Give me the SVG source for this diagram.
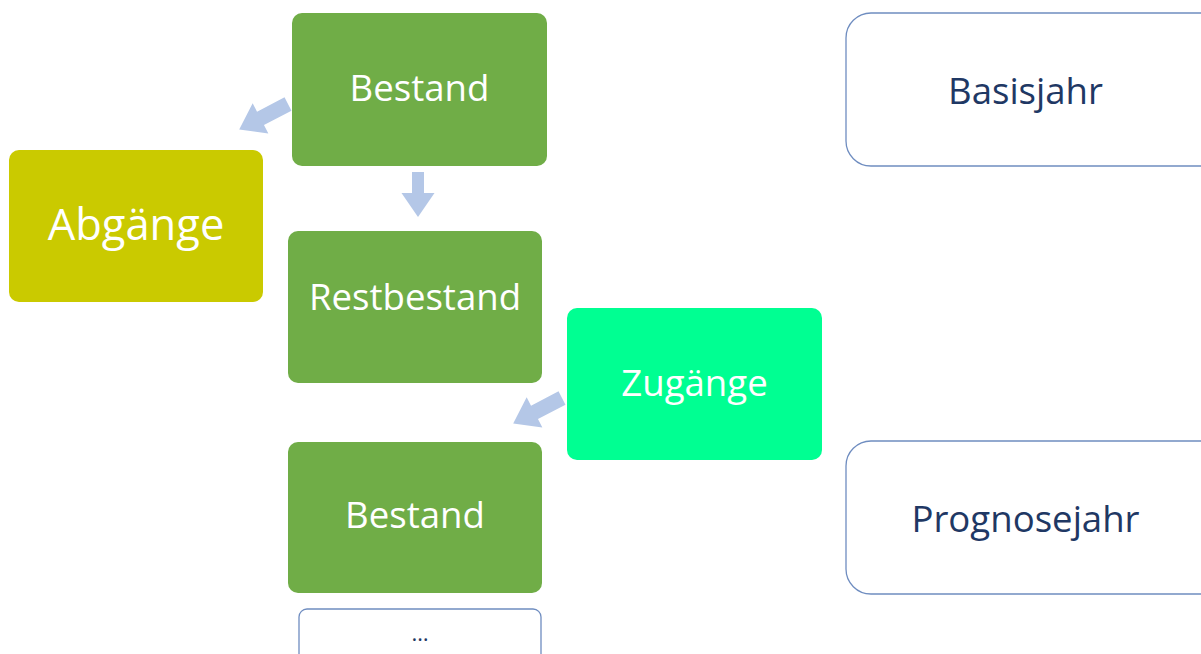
<svg xmlns="http://www.w3.org/2000/svg" width="1201" height="654" viewBox="0 0 1201 654">
<style>
.g{fill:#70AD47}
.w{fill:#FFFFFF;stroke:#6F8DC0;stroke-width:1.3}
.t{font-family:"Open Sans","Noto Sans",sans-serif;font-size:36.6px;text-anchor:middle}
.tw{fill:#FFFFFF}
.tn{fill:#1F3864}
.ar{fill:#B4C7E7}
</style>
<g id="connectors">
<path class="ar" transform="translate(288,104) rotate(152.5)" d="M0,-7.5 H31 V-17 L55,0 L31,17 V7.5 H0 Z"/>
<path class="ar" transform="translate(418,172) rotate(90)" d="M0,-6 H21 V-16.5 L45,0 L21,16.5 V6 H0 Z"/>
<path class="ar" transform="translate(562,398) rotate(152.5)" d="M0,-7.5 H31 V-17 L55,0 L31,17 V7.5 H0 Z"/>
</g>
<g id="bestand1"><rect class="g" x="292" y="13" width="255" height="153" rx="10"/><text class="t tw" x="419.5" y="101">Bestand</text></g>
<g id="abgaenge"><rect x="9" y="150" width="254" height="152" rx="10" fill="#CACA00"/><text class="t tw" x="136" y="240" style="font-size:43.5px">Abgänge</text></g>
<g id="restbestand"><rect class="g" x="288" y="231" width="254" height="152" rx="10"/><text class="t tw" x="415" y="310">Restbestand</text></g>
<g id="zugaenge"><rect x="567" y="308" width="255" height="152" rx="10" fill="#00FF92"/><text class="t tw" x="694.5" y="396">Zugänge</text></g>
<g id="bestand2"><rect class="g" x="288" y="442" width="254" height="151" rx="10"/><text class="t tw" x="415" y="528">Bestand</text></g>
<g id="more"><rect class="w" x="299" y="609" width="242" height="60" rx="8"/><text class="t tn" x="420" y="641" style="font-size:22px">…</text></g>
<g id="basisjahr"><rect class="w" x="846" y="13" width="380" height="153" rx="25"/><text class="t tn" x="1025.5" y="104">Basisjahr</text></g>
<g id="prognosejahr"><rect class="w" x="846" y="441" width="380" height="153" rx="25"/><text class="t tn" x="1025.5" y="532">Prognosejahr</text></g>
</svg>
